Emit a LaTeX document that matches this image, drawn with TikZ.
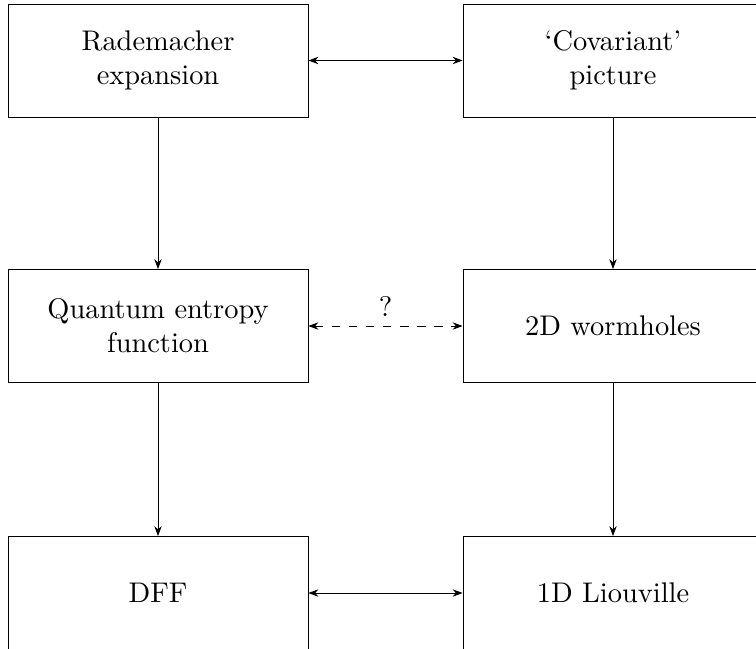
\documentclass[tikz,border=0pt]{standalone}
\usetikzlibrary{arrows.meta}
\begin{document}
\begin{tikzpicture}[x=0.352pt,y=-0.352pt,
  box/.style={draw, line width=0.3pt, minimum width=105.6pt, minimum height=39.8pt, align=center, inner sep=0pt},
  conn/.style={line width=0.3pt, -{Stealth[length=3.5pt,width=2.6pt]}},
  biconn/.style={line width=0.3pt, {Stealth[length=3.5pt,width=2.6pt]}-{Stealth[length=3.5pt,width=2.6pt]}}]
\useasboundingbox (0,0) rectangle (756,648);
\clip (0,0) rectangle (756,648);
\node[box] (rad) at (158,60.5) {Rademacher\\expansion};
\node[box] (cov) at (613,60.5) {`Covariant'\\picture};
\node[box] (qef) at (158,326) {Quantum entropy\\function};
\node[box] (worm) at (613,326) {2D wormholes};
\node[box] (dff) at (158,593) {DFF};
\node[box] (liou) at (613,593) {1D Liouville};
\draw[biconn] (rad) -- (cov);
\draw[conn] (rad) -- (qef);
\draw[conn] (cov) -- (worm);
\draw[biconn, dashed] (qef) -- node[above] {?} (worm);
\draw[conn] (qef) -- (dff);
\draw[conn] (worm) -- (liou);
\draw[biconn] (dff) -- (liou);
\end{tikzpicture}
\end{document}
